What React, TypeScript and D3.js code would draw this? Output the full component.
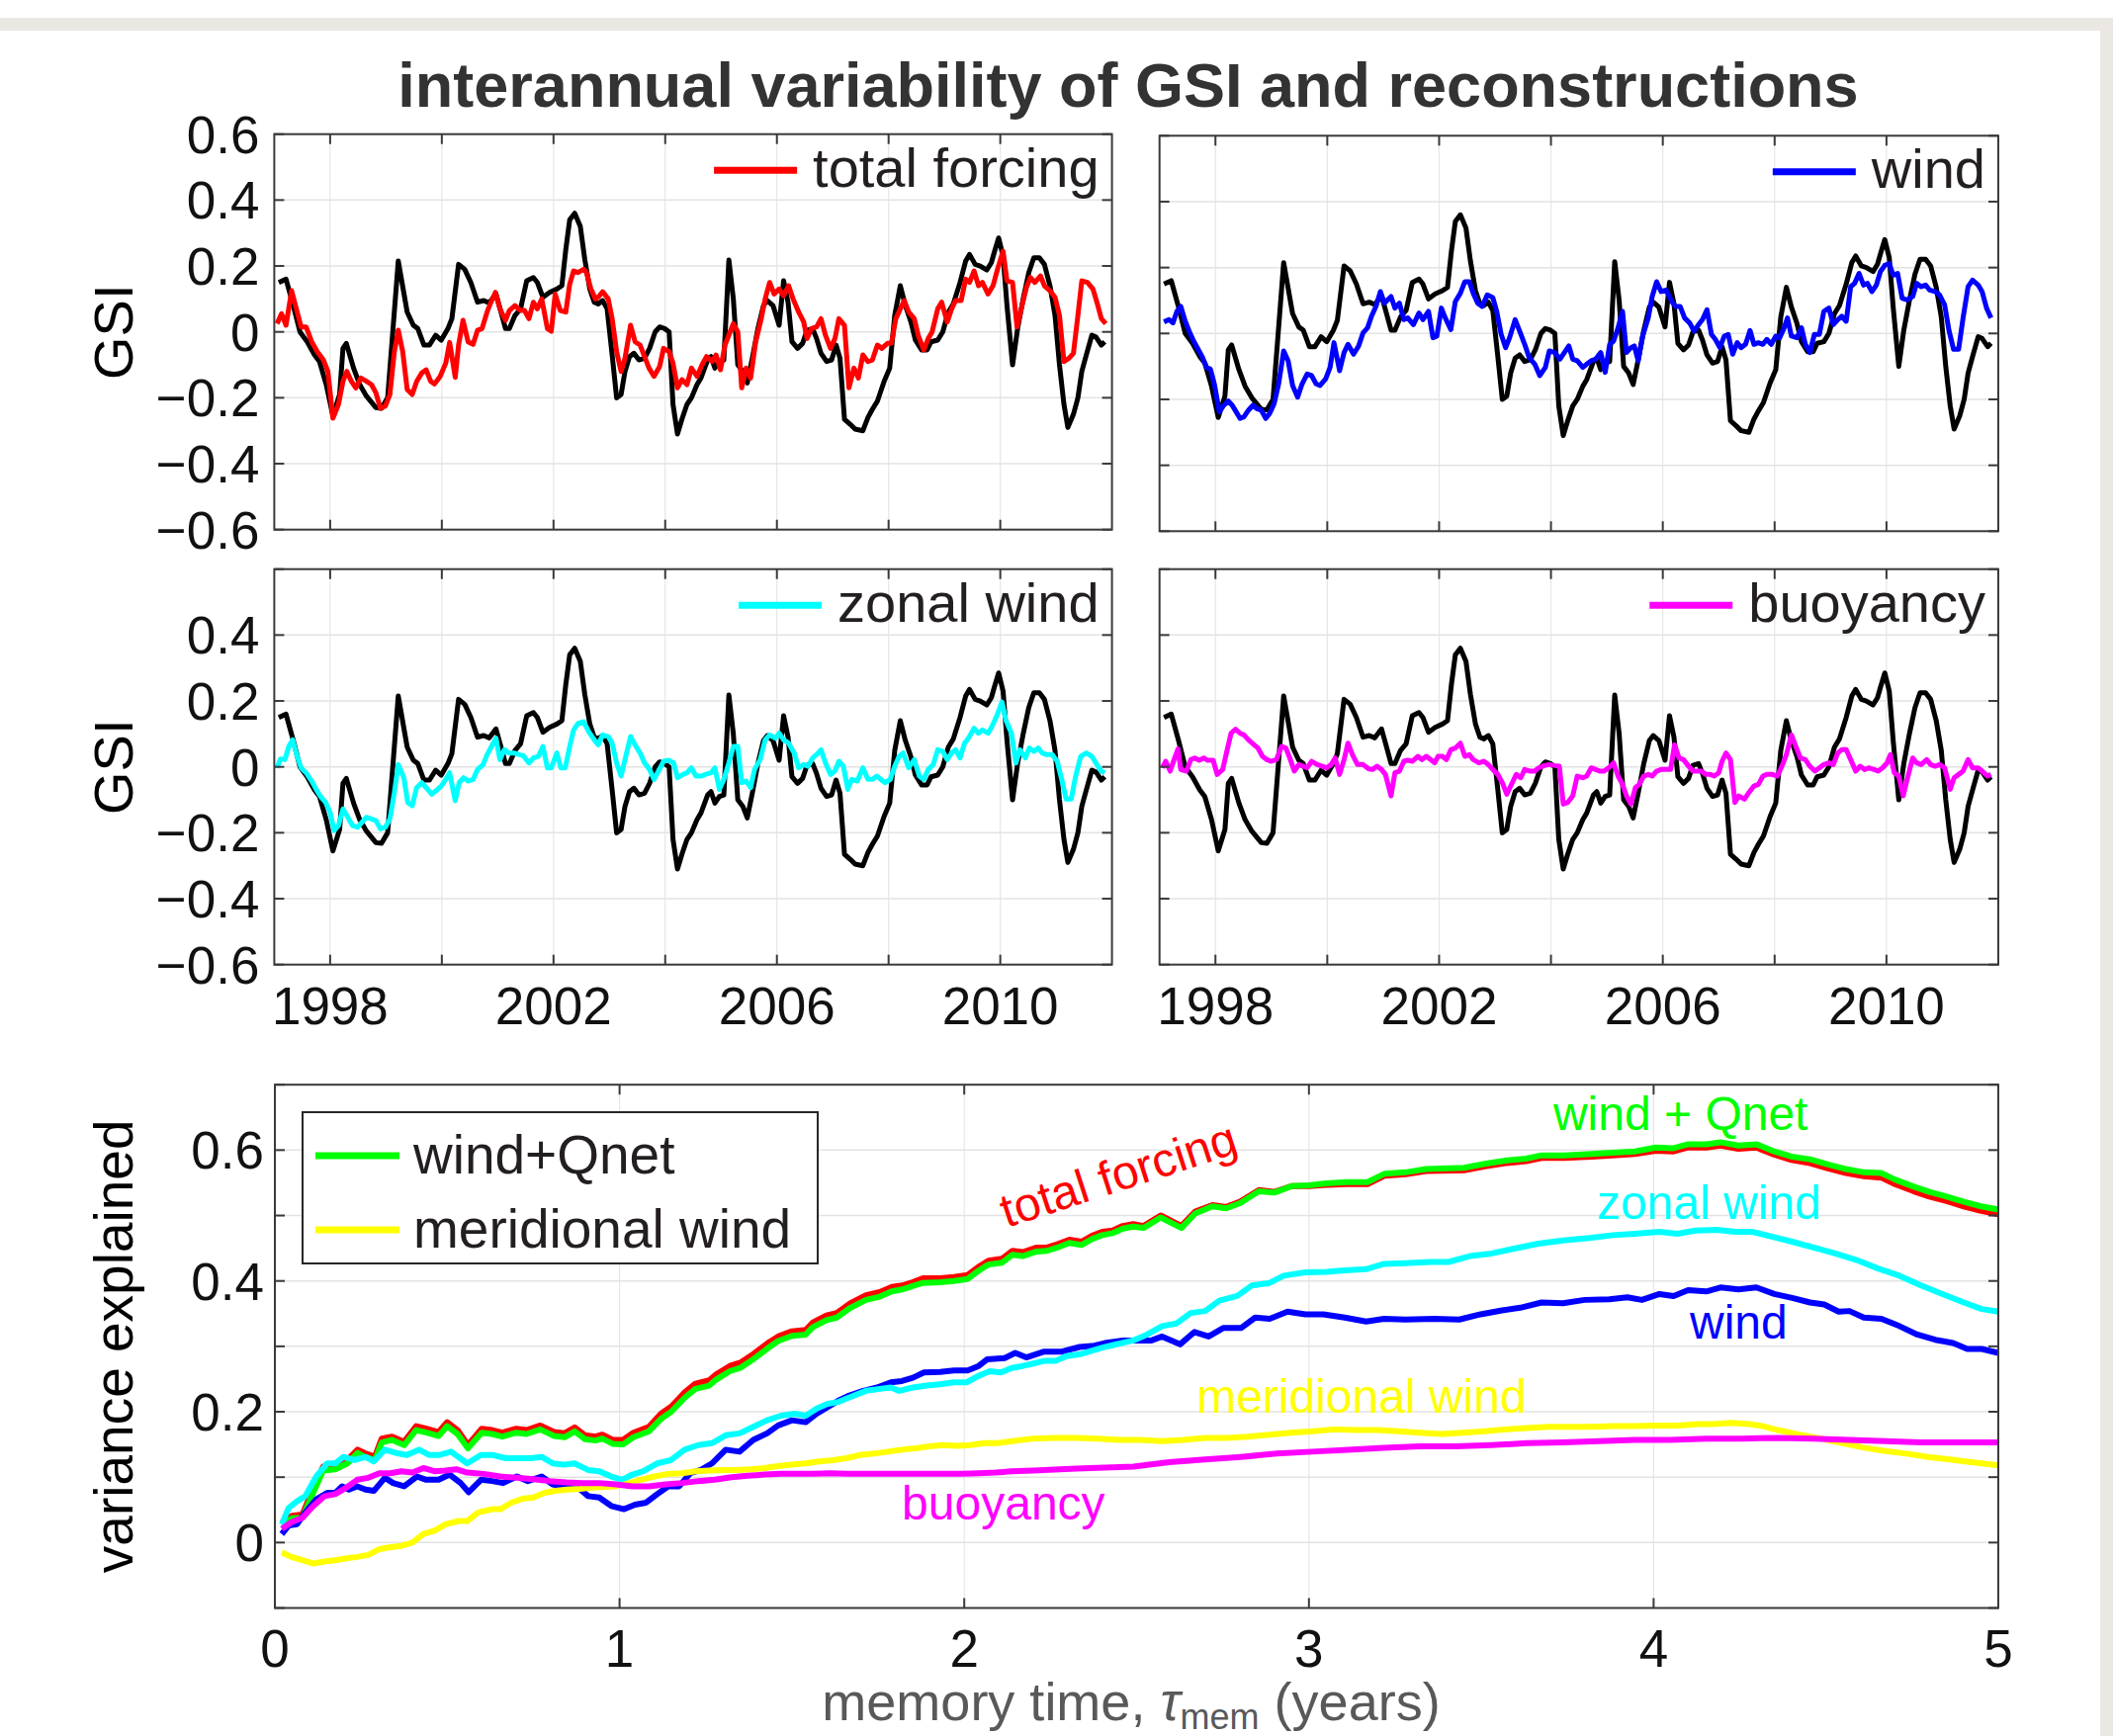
import React, { useEffect, useRef } from "react";
import * as d3 from "d3";

type P = [number, number];

// ---------- top panels: GSI (black) and reconstructions ----------
const GSI: P[] = [[1997.08,0.15],[1997.21,0.16],[1997.34,0.08],[1997.46,0.0],[1997.59,-0.03],[1997.72,-0.07],[1997.81,-0.09],[1997.93,-0.16],[1998.05,-0.255],[1998.17,-0.19],[1998.23,-0.05],[1998.29,-0.035],[1998.42,-0.11],[1998.53,-0.16],[1998.65,-0.195],[1998.82,-0.23],[1998.92,-0.232],[1999.03,-0.2],[1999.22,0.215],[1999.38,0.06],[1999.49,0.02],[1999.57,0.01],[1999.68,-0.04],[1999.78,-0.04],[1999.89,-0.01],[1999.99,-0.025],[2000.11,0.01],[2000.18,0.04],[2000.30,0.205],[2000.41,0.19],[2000.52,0.15],[2000.64,0.09],[2000.75,0.095],[2000.85,0.088],[2000.97,0.115],[2001.06,0.06],[2001.14,0.01],[2001.21,0.01],[2001.31,0.05],[2001.41,0.07],[2001.52,0.155],[2001.64,0.165],[2001.71,0.15],[2001.81,0.105],[2001.93,0.12],[2002.06,0.13],[2002.15,0.14],[2002.22,0.25],[2002.29,0.34],[2002.38,0.36],[2002.48,0.32],[2002.56,0.22],[2002.65,0.13],[2002.73,0.09],[2002.80,0.085],[2002.88,0.095],[2002.96,0.07],[2003.05,-0.07],[2003.13,-0.2],[2003.21,-0.19],[2003.28,-0.12],[2003.36,-0.075],[2003.44,-0.065],[2003.53,-0.085],[2003.63,-0.08],[2003.72,-0.05],[2003.82,0.0],[2003.90,0.015],[2003.99,0.01],[2004.07,0.0],[2004.14,-0.22],[2004.22,-0.31],[2004.30,-0.265],[2004.39,-0.22],[2004.47,-0.2],[2004.57,-0.16],[2004.64,-0.14],[2004.76,-0.085],[2004.82,-0.075],[2004.89,-0.11],[2004.97,-0.09],[2005.05,-0.085],[2005.14,0.218],[2005.22,0.10],[2005.30,-0.1],[2005.39,-0.12],[2005.47,-0.155],[2005.56,-0.08],[2005.66,0.01],[2005.76,0.08],[2005.83,0.095],[2005.93,0.08],[2006.04,0.02],[2006.12,0.155],[2006.20,0.09],[2006.27,-0.03],[2006.37,-0.05],[2006.46,-0.035],[2006.54,0.005],[2006.64,0.01],[2006.71,-0.02],[2006.79,-0.065],[2006.89,-0.09],[2006.98,-0.085],[2007.06,-0.04],[2007.13,-0.08],[2007.21,-0.265],[2007.31,-0.28],[2007.40,-0.295],[2007.54,-0.3],[2007.63,-0.26],[2007.71,-0.235],[2007.80,-0.21],[2007.92,-0.15],[2008.02,-0.11],[2008.11,0.05],[2008.21,0.14],[2008.30,0.08],[2008.40,0.03],[2008.48,-0.025],[2008.59,-0.055],[2008.69,-0.055],[2008.76,-0.03],[2008.88,-0.025],[2008.97,0.0],[2009.07,0.06],[2009.16,0.085],[2009.28,0.15],[2009.38,0.215],[2009.45,0.235],[2009.55,0.205],[2009.64,0.2],[2009.76,0.188],[2009.84,0.21],[2009.89,0.24],[2009.97,0.285],[2010.05,0.23],[2010.12,0.08],[2010.22,-0.1],[2010.31,0.01],[2010.41,0.1],[2010.51,0.18],[2010.60,0.225],[2010.70,0.225],[2010.79,0.205],[2010.89,0.14],[2010.98,0.05],[2011.06,-0.1],[2011.14,-0.22],[2011.21,-0.29],[2011.31,-0.25],[2011.39,-0.2],[2011.46,-0.12],[2011.54,-0.07],[2011.64,-0.01],[2011.71,-0.015],[2011.81,-0.04],[2011.87,-0.03]];

const TOTAL_TS: P[] = [[1997.05,0.025],[1997.13,0.055],[1997.21,0.02],[1997.31,0.125],[1997.38,0.08],[1997.48,0.015],[1997.57,0.015],[1997.67,-0.03],[1997.77,-0.06],[1997.88,-0.085],[1997.96,-0.12],[1998.05,-0.262],[1998.15,-0.22],[1998.23,-0.15],[1998.30,-0.12],[1998.38,-0.15],[1998.46,-0.17],[1998.55,-0.14],[1998.65,-0.15],[1998.74,-0.16],[1998.82,-0.185],[1998.90,-0.232],[1998.99,-0.225],[1999.07,-0.19],[1999.15,-0.06],[1999.22,0.005],[1999.30,-0.06],[1999.38,-0.175],[1999.47,-0.19],[1999.55,-0.15],[1999.64,-0.125],[1999.72,-0.115],[1999.80,-0.15],[1999.87,-0.158],[1999.97,-0.135],[2000.07,-0.095],[2000.14,-0.032],[2000.24,-0.138],[2000.30,-0.04],[2000.38,0.035],[2000.47,-0.03],[2000.56,-0.038],[2000.64,0.005],[2000.72,0.01],[2000.81,0.06],[2000.88,0.09],[2000.96,0.12],[2001.04,0.07],[2001.14,0.035],[2001.21,0.065],[2001.31,0.08],[2001.41,0.065],[2001.48,0.065],[2001.56,0.04],[2001.64,0.09],[2001.71,0.07],[2001.79,0.1],[2001.89,0.01],[2001.96,0.002],[2002.03,0.115],[2002.12,0.065],[2002.22,0.06],[2002.29,0.145],[2002.36,0.185],[2002.44,0.18],[2002.54,0.19],[2002.59,0.18],[2002.67,0.13],[2002.75,0.1],[2002.80,0.105],[2002.88,0.122],[2002.98,0.1],[2003.05,0.04],[2003.13,-0.06],[2003.21,-0.12],[2003.28,-0.08],[2003.38,0.02],[2003.46,-0.03],[2003.55,-0.04],[2003.63,-0.075],[2003.71,-0.11],[2003.80,-0.135],[2003.90,-0.105],[2003.97,-0.05],[2004.07,-0.06],[2004.14,-0.095],[2004.22,-0.17],[2004.30,-0.145],[2004.39,-0.16],[2004.47,-0.11],[2004.57,-0.135],[2004.66,-0.1],[2004.74,-0.075],[2004.84,-0.09],[2004.91,-0.07],[2004.99,-0.115],[2005.07,-0.04],[2005.14,-0.01],[2005.22,0.025],[2005.30,0.0],[2005.37,-0.17],[2005.45,-0.11],[2005.53,-0.14],[2005.62,-0.03],[2005.72,0.04],[2005.79,0.1],[2005.87,0.15],[2005.95,0.115],[2006.04,0.13],[2006.12,0.11],[2006.21,0.14],[2006.29,0.1],[2006.39,0.06],[2006.48,0.03],[2006.54,-0.02],[2006.62,0.01],[2006.71,0.015],[2006.79,0.04],[2006.87,-0.01],[2006.96,-0.05],[2007.04,-0.02],[2007.11,0.04],[2007.21,0.02],[2007.29,-0.17],[2007.38,-0.11],[2007.46,-0.14],[2007.54,-0.07],[2007.63,-0.09],[2007.71,-0.085],[2007.80,-0.04],[2007.88,-0.05],[2007.98,-0.035],[2008.05,-0.035],[2008.13,0.04],[2008.21,0.07],[2008.28,0.095],[2008.36,0.06],[2008.46,0.04],[2008.53,-0.01],[2008.63,-0.055],[2008.71,-0.02],[2008.78,0.0],[2008.88,0.07],[2008.95,0.09],[2009.05,0.03],[2009.13,0.07],[2009.20,0.095],[2009.30,0.095],[2009.38,0.16],[2009.45,0.15],[2009.53,0.185],[2009.61,0.14],[2009.68,0.15],[2009.78,0.115],[2009.87,0.14],[2009.95,0.19],[2010.05,0.245],[2010.12,0.155],[2010.22,0.15],[2010.30,0.015],[2010.39,0.08],[2010.47,0.135],[2010.54,0.165],[2010.62,0.15],[2010.72,0.17],[2010.79,0.14],[2010.89,0.125],[2010.98,0.105],[2011.06,0.05],[2011.14,-0.09],[2011.23,-0.08],[2011.31,-0.065],[2011.39,0.05],[2011.46,0.155],[2011.56,0.15],[2011.66,0.13],[2011.73,0.09],[2011.81,0.04],[2011.89,0.025]];

const WIND_TS: P[] = [[1997.08,0.035],[1997.17,0.042],[1997.24,0.032],[1997.31,0.067],[1997.38,0.082],[1997.46,0.037],[1997.53,0.007],[1997.61,-0.023],[1997.69,-0.048],[1997.77,-0.073],[1997.84,-0.103],[1997.91,-0.108],[1997.98,-0.153],[1998.07,-0.238],[1998.15,-0.218],[1998.23,-0.205],[1998.30,-0.218],[1998.36,-0.235],[1998.44,-0.258],[1998.51,-0.253],[1998.59,-0.233],[1998.67,-0.218],[1998.74,-0.228],[1998.82,-0.233],[1998.90,-0.258],[1998.97,-0.243],[1999.05,-0.213],[1999.13,-0.153],[1999.22,-0.053],[1999.30,-0.083],[1999.38,-0.158],[1999.47,-0.193],[1999.55,-0.153],[1999.64,-0.123],[1999.72,-0.128],[1999.80,-0.153],[1999.87,-0.158],[1999.97,-0.138],[2000.05,-0.103],[2000.12,-0.028],[2000.22,-0.113],[2000.30,-0.058],[2000.37,-0.033],[2000.47,-0.063],[2000.56,-0.038],[2000.64,0.002],[2000.72,0.017],[2000.79,0.052],[2000.87,0.082],[2000.95,0.127],[2001.02,0.092],[2001.14,0.112],[2001.21,0.077],[2001.29,0.092],[2001.37,0.042],[2001.44,0.047],[2001.54,0.027],[2001.64,0.062],[2001.71,0.042],[2001.81,0.067],[2001.89,-0.013],[2001.96,-0.008],[2002.04,0.077],[2002.11,0.047],[2002.21,0.012],[2002.29,0.097],[2002.38,0.122],[2002.46,0.157],[2002.54,0.157],[2002.61,0.122],[2002.69,0.092],[2002.77,0.082],[2002.86,0.117],[2002.96,0.109],[2003.03,0.067],[2003.11,-0.003],[2003.19,-0.043],[2003.26,-0.013],[2003.36,0.042],[2003.44,0.007],[2003.53,-0.033],[2003.61,-0.073],[2003.71,-0.093],[2003.80,-0.128],[2003.90,-0.103],[2003.97,-0.053],[2004.07,-0.058],[2004.16,-0.078],[2004.24,-0.058],[2004.32,-0.038],[2004.39,-0.078],[2004.47,-0.083],[2004.57,-0.103],[2004.64,-0.093],[2004.72,-0.083],[2004.80,-0.078],[2004.89,-0.058],[2004.97,-0.118],[2005.05,-0.033],[2005.12,-0.023],[2005.20,0.017],[2005.28,0.067],[2005.35,-0.058],[2005.43,-0.043],[2005.49,-0.038],[2005.56,-0.083],[2005.64,-0.008],[2005.74,0.047],[2005.81,0.112],[2005.89,0.157],[2005.97,0.127],[2006.06,0.132],[2006.16,0.097],[2006.23,0.082],[2006.31,0.082],[2006.39,0.047],[2006.48,0.032],[2006.56,0.007],[2006.64,0.027],[2006.71,0.042],[2006.79,0.072],[2006.87,-0.003],[2006.94,-0.018],[2007.02,-0.043],[2007.10,-0.008],[2007.17,-0.003],[2007.25,-0.063],[2007.33,-0.028],[2007.40,-0.043],[2007.48,-0.033],[2007.56,0.009],[2007.63,-0.033],[2007.71,-0.028],[2007.79,-0.033],[2007.86,-0.018],[2007.94,-0.033],[2008.02,-0.008],[2008.09,-0.013],[2008.17,0.017],[2008.23,0.047],[2008.30,-0.008],[2008.40,-0.013],[2008.48,0.017],[2008.55,-0.033],[2008.63,-0.058],[2008.71,-0.003],[2008.80,-0.003],[2008.88,0.067],[2008.97,0.077],[2009.05,0.027],[2009.13,0.042],[2009.20,0.052],[2009.28,0.037],[2009.36,0.142],[2009.43,0.152],[2009.51,0.182],[2009.59,0.147],[2009.66,0.152],[2009.74,0.127],[2009.82,0.147],[2009.89,0.187],[2009.97,0.207],[2010.05,0.212],[2010.12,0.177],[2010.20,0.182],[2010.28,0.107],[2010.37,0.102],[2010.47,0.112],[2010.54,0.152],[2010.62,0.142],[2010.70,0.147],[2010.77,0.132],[2010.87,0.127],[2010.95,0.117],[2011.04,0.087],[2011.12,0.007],[2011.20,-0.048],[2011.29,-0.048],[2011.37,0.047],[2011.46,0.142],[2011.54,0.162],[2011.64,0.147],[2011.71,0.127],[2011.79,0.077],[2011.87,0.047]];

const ZONAL_TS: P[] = [[1997.05,-0.003],[1997.11,0.024],[1997.19,0.022],[1997.26,0.062],[1997.33,0.082],[1997.40,0.037],[1997.48,-0.003],[1997.57,-0.018],[1997.67,-0.043],[1997.75,-0.068],[1997.82,-0.088],[1997.92,-0.108],[1998.00,-0.138],[1998.07,-0.193],[1998.15,-0.178],[1998.23,-0.128],[1998.30,-0.148],[1998.40,-0.178],[1998.49,-0.183],[1998.57,-0.168],[1998.65,-0.153],[1998.74,-0.158],[1998.82,-0.163],[1998.90,-0.188],[1998.99,-0.183],[1999.07,-0.158],[1999.15,-0.078],[1999.22,0.007],[1999.32,-0.033],[1999.39,-0.108],[1999.47,-0.118],[1999.55,-0.063],[1999.64,-0.048],[1999.72,-0.063],[1999.82,-0.083],[1999.89,-0.073],[1999.99,-0.058],[2000.07,-0.038],[2000.14,-0.018],[2000.24,-0.103],[2000.31,-0.048],[2000.39,-0.033],[2000.47,-0.043],[2000.56,-0.038],[2000.64,-0.008],[2000.74,0.007],[2000.81,0.037],[2000.89,0.062],[2000.97,0.087],[2001.04,0.022],[2001.12,0.052],[2001.20,0.042],[2001.29,0.042],[2001.39,0.037],[2001.46,0.034],[2001.56,0.012],[2001.64,0.027],[2001.73,0.032],[2001.81,0.062],[2001.89,-0.003],[2001.96,-0.003],[2002.06,0.042],[2002.13,-0.003],[2002.21,-0.003],[2002.29,0.062],[2002.36,0.112],[2002.44,0.132],[2002.54,0.137],[2002.63,0.107],[2002.73,0.082],[2002.80,0.067],[2002.88,0.097],[2002.98,0.092],[2003.05,0.072],[2003.13,0.012],[2003.21,-0.028],[2003.28,0.022],[2003.38,0.092],[2003.46,0.067],[2003.55,0.042],[2003.63,0.012],[2003.72,-0.008],[2003.80,-0.038],[2003.88,-0.013],[2003.97,0.017],[2004.07,0.020],[2004.15,0.012],[2004.22,-0.033],[2004.32,-0.023],[2004.39,-0.018],[2004.47,-0.003],[2004.55,-0.028],[2004.64,-0.028],[2004.72,-0.023],[2004.82,-0.018],[2004.89,-0.003],[2004.97,-0.068],[2005.05,-0.038],[2005.14,0.012],[2005.22,0.062],[2005.30,0.062],[2005.37,-0.048],[2005.45,-0.043],[2005.53,-0.063],[2005.60,-0.008],[2005.70,0.022],[2005.79,0.082],[2005.87,0.097],[2005.97,0.087],[2006.04,0.102],[2006.12,0.082],[2006.21,0.072],[2006.31,0.042],[2006.39,-0.003],[2006.48,0.007],[2006.56,0.002],[2006.64,0.027],[2006.71,0.037],[2006.79,0.052],[2006.87,0.012],[2006.96,-0.023],[2007.04,-0.013],[2007.11,0.017],[2007.19,0.002],[2007.27,-0.068],[2007.34,-0.038],[2007.44,-0.043],[2007.54,-0.003],[2007.63,-0.038],[2007.71,-0.038],[2007.79,-0.028],[2007.86,-0.038],[2007.94,-0.048],[2008.03,-0.038],[2008.11,0.002],[2008.19,0.032],[2008.26,0.042],[2008.36,-0.003],[2008.46,0.022],[2008.55,-0.028],[2008.63,-0.038],[2008.71,-0.008],[2008.80,0.007],[2008.88,0.052],[2008.97,0.047],[2009.05,0.022],[2009.13,0.042],[2009.20,0.052],[2009.28,0.027],[2009.36,0.072],[2009.43,0.087],[2009.53,0.117],[2009.61,0.102],[2009.68,0.112],[2009.78,0.102],[2009.85,0.122],[2009.93,0.152],[2010.03,0.197],[2010.10,0.142],[2010.20,0.102],[2010.28,0.012],[2010.35,0.052],[2010.45,0.027],[2010.52,0.057],[2010.60,0.047],[2010.68,0.057],[2010.75,0.042],[2010.83,0.037],[2010.93,0.037],[2011.02,0.017],[2011.10,-0.038],[2011.18,-0.098],[2011.27,-0.098],[2011.35,-0.028],[2011.44,0.032],[2011.54,0.042],[2011.64,0.032],[2011.71,0.012],[2011.81,-0.013],[2011.87,-0.018]];

const BUOY_TS: P[] = [[1997.05,-0.003],[1997.11,0.017],[1997.19,-0.013],[1997.26,0.022],[1997.33,0.054],[1997.38,-0.008],[1997.48,-0.013],[1997.56,0.022],[1997.63,0.027],[1997.71,0.02],[1997.79,0.027],[1997.86,0.02],[1997.96,0.02],[1998.03,-0.023],[1998.13,-0.008],[1998.21,0.052],[1998.28,0.102],[1998.36,0.114],[1998.44,0.102],[1998.51,0.097],[1998.59,0.082],[1998.69,0.067],[1998.76,0.057],[1998.84,0.032],[1998.92,0.022],[1998.99,0.017],[1999.09,0.022],[1999.18,0.062],[1999.26,0.057],[1999.34,0.022],[1999.41,-0.013],[1999.49,0.007],[1999.57,0.002],[1999.64,-0.003],[1999.72,0.017],[1999.82,0.007],[1999.91,0.002],[1999.99,-0.003],[2000.07,0.007],[2000.14,0.027],[2000.22,-0.023],[2000.30,0.022],[2000.37,0.072],[2000.45,0.037],[2000.54,0.007],[2000.64,0.007],[2000.74,-0.006],[2000.81,-0.008],[2000.89,0.002],[2000.97,-0.008],[2001.04,-0.023],[2001.14,-0.088],[2001.21,-0.018],[2001.29,-0.013],[2001.37,0.017],[2001.44,0.02],[2001.52,0.017],[2001.62,0.032],[2001.69,0.022],[2001.77,0.032],[2001.85,0.022],[2001.92,0.012],[2001.98,0.032],[2002.06,0.032],[2002.13,0.022],[2002.21,0.052],[2002.29,0.057],[2002.38,0.072],[2002.46,0.032],[2002.54,0.037],[2002.61,0.022],[2002.71,0.012],[2002.80,0.017],[2002.88,0.007],[2002.96,-0.008],[2003.05,-0.023],[2003.13,-0.048],[2003.21,-0.083],[2003.28,-0.058],[2003.38,-0.023],[2003.46,-0.033],[2003.53,-0.008],[2003.63,-0.013],[2003.71,-0.013],[2003.78,-0.003],[2003.88,0.004],[2003.97,0.007],[2004.07,0.004],[2004.15,0.002],[2004.22,-0.113],[2004.30,-0.108],[2004.39,-0.088],[2004.47,-0.028],[2004.57,-0.033],[2004.64,-0.028],[2004.72,-0.003],[2004.80,-0.008],[2004.87,-0.013],[2004.95,-0.013],[2005.03,-0.003],[2005.12,0.012],[2005.20,-0.028],[2005.28,-0.053],[2005.35,-0.088],[2005.43,-0.113],[2005.51,-0.063],[2005.58,-0.053],[2005.66,-0.028],[2005.74,-0.023],[2005.81,-0.028],[2005.89,-0.013],[2005.97,-0.008],[2006.04,-0.008],[2006.14,-0.008],[2006.21,0.067],[2006.29,0.027],[2006.37,0.022],[2006.46,0.002],[2006.54,-0.013],[2006.62,-0.013],[2006.69,-0.013],[2006.77,-0.023],[2006.85,-0.023],[2006.92,-0.028],[2007.00,-0.018],[2007.06,0.017],[2007.13,0.042],[2007.21,0.022],[2007.29,-0.108],[2007.36,-0.088],[2007.46,-0.098],[2007.54,-0.078],[2007.63,-0.058],[2007.71,-0.053],[2007.79,-0.028],[2007.86,-0.023],[2007.96,-0.023],[2008.05,-0.028],[2008.13,0.002],[2008.21,0.037],[2008.30,0.097],[2008.38,0.062],[2008.46,0.027],[2008.55,0.022],[2008.63,0.002],[2008.72,-0.013],[2008.80,-0.003],[2008.88,0.007],[2008.97,0.012],[2009.05,0.007],[2009.13,0.042],[2009.20,0.052],[2009.28,0.052],[2009.36,0.022],[2009.45,-0.013],[2009.53,0.002],[2009.61,-0.008],[2009.68,-0.003],[2009.78,-0.008],[2009.85,-0.013],[2009.93,-0.003],[2010.01,0.012],[2010.07,0.037],[2010.14,-0.018],[2010.22,-0.028],[2010.30,-0.088],[2010.37,-0.038],[2010.47,0.027],[2010.54,0.012],[2010.62,0.007],[2010.72,0.022],[2010.79,0.007],[2010.87,0.002],[2010.95,0.007],[2011.04,-0.003],[2011.14,-0.068],[2011.21,-0.033],[2011.29,-0.023],[2011.37,-0.013],[2011.46,0.022],[2011.54,-0.003],[2011.64,-0.003],[2011.71,-0.013],[2011.81,-0.028],[2011.87,-0.023]];

// ---------- bottom panel: variance explained vs memory time ----------
const VE_TOTAL: P[] = [[0.02,0.031],[0.05,0.041],[0.08,0.043],[0.11,0.081],[0.14,0.116],[0.175,0.117],[0.21,0.126],[0.24,0.142],[0.26,0.137],[0.29,0.131],[0.31,0.159],[0.34,0.162],[0.375,0.154],[0.41,0.178],[0.44,0.174],[0.475,0.169],[0.50,0.184],[0.53,0.172],[0.56,0.149],[0.60,0.174],[0.63,0.172],[0.66,0.168],[0.70,0.174],[0.73,0.172],[0.77,0.179],[0.81,0.169],[0.84,0.167],[0.87,0.176],[0.90,0.164],[0.93,0.162],[0.95,0.165],[0.98,0.157],[1.01,0.157],[1.04,0.168],[1.085,0.177],[1.12,0.197],[1.15,0.208],[1.19,0.230],[1.22,0.243],[1.26,0.248],[1.28,0.257],[1.32,0.270],[1.35,0.275],[1.39,0.289],[1.43,0.305],[1.46,0.315],[1.50,0.323],[1.54,0.325],[1.56,0.336],[1.60,0.347],[1.63,0.351],[1.67,0.366],[1.715,0.378],[1.755,0.383],[1.79,0.391],[1.82,0.393],[1.85,0.398],[1.88,0.404],[1.93,0.404],[1.97,0.406],[2.01,0.409],[2.04,0.421],[2.07,0.431],[2.11,0.434],[2.14,0.446],[2.17,0.444],[2.21,0.451],[2.24,0.451],[2.27,0.456],[2.305,0.463],[2.34,0.460],[2.37,0.469],[2.40,0.475],[2.43,0.477],[2.46,0.484],[2.49,0.487],[2.52,0.484],[2.57,0.500],[2.63,0.484],[2.67,0.506],[2.72,0.516],[2.76,0.513],[2.80,0.521],[2.855,0.539],[2.90,0.536],[2.95,0.545],[3.0,0.545],[3.05,0.547],[3.11,0.548],[3.17,0.548],[3.22,0.561],[3.28,0.563],[3.34,0.568],[3.45,0.569],[3.51,0.575],[3.57,0.580],[3.63,0.583],[3.675,0.588],[3.74,0.588],[3.82,0.590],[3.88,0.592],[3.945,0.594],[4.006,0.599],[4.058,0.598],[4.10,0.604],[4.153,0.604],[4.194,0.607],[4.246,0.602],[4.298,0.604],[4.35,0.593],[4.40,0.585],[4.454,0.580],[4.506,0.572],[4.558,0.565],[4.61,0.560],[4.66,0.558],[4.70,0.548],[4.755,0.537],[4.80,0.529],[4.85,0.522],[4.90,0.514],[4.95,0.507],[5.0,0.502]];

const VE_WINDQNET: P[] = [[0.02,0.028],[0.05,0.037],[0.08,0.038],[0.11,0.075],[0.14,0.110],[0.175,0.112],[0.21,0.121],[0.24,0.137],[0.26,0.131],[0.29,0.126],[0.31,0.153],[0.34,0.157],[0.375,0.149],[0.41,0.172],[0.44,0.168],[0.475,0.163],[0.50,0.178],[0.53,0.166],[0.56,0.144],[0.60,0.168],[0.63,0.166],[0.66,0.162],[0.70,0.168],[0.73,0.166],[0.77,0.173],[0.81,0.163],[0.84,0.161],[0.87,0.170],[0.90,0.158],[0.93,0.156],[0.95,0.159],[0.98,0.151],[1.01,0.150],[1.04,0.161],[1.085,0.170],[1.12,0.189],[1.15,0.200],[1.19,0.222],[1.22,0.235],[1.26,0.240],[1.28,0.249],[1.32,0.262],[1.35,0.267],[1.39,0.281],[1.43,0.297],[1.46,0.308],[1.50,0.316],[1.54,0.318],[1.56,0.329],[1.60,0.340],[1.63,0.344],[1.67,0.359],[1.715,0.371],[1.755,0.376],[1.79,0.384],[1.82,0.387],[1.85,0.392],[1.88,0.397],[1.93,0.398],[1.97,0.400],[2.01,0.403],[2.04,0.415],[2.07,0.425],[2.11,0.428],[2.14,0.440],[2.17,0.438],[2.21,0.445],[2.24,0.446],[2.27,0.451],[2.305,0.458],[2.34,0.455],[2.37,0.464],[2.40,0.470],[2.43,0.473],[2.46,0.480],[2.49,0.483],[2.52,0.481],[2.57,0.497],[2.63,0.481],[2.67,0.503],[2.72,0.514],[2.76,0.511],[2.80,0.519],[2.855,0.537],[2.90,0.535],[2.95,0.545],[3.0,0.546],[3.05,0.549],[3.11,0.551],[3.17,0.551],[3.22,0.564],[3.28,0.566],[3.34,0.571],[3.45,0.573],[3.51,0.579],[3.57,0.584],[3.63,0.587],[3.675,0.592],[3.74,0.592],[3.82,0.594],[3.88,0.596],[3.945,0.598],[4.006,0.604],[4.058,0.603],[4.10,0.609],[4.153,0.609],[4.194,0.612],[4.246,0.607],[4.298,0.609],[4.35,0.598],[4.40,0.590],[4.454,0.586],[4.506,0.578],[4.558,0.571],[4.61,0.566],[4.66,0.565],[4.70,0.555],[4.755,0.544],[4.80,0.536],[4.85,0.529],[4.90,0.521],[4.95,0.514],[5.0,0.509]];

const VE_ZONAL: P[] = [[0.02,0.028],[0.04,0.053],[0.064,0.063],[0.088,0.071],[0.12,0.101],[0.152,0.121],[0.175,0.121],[0.199,0.131],[0.231,0.126],[0.263,0.131],[0.287,0.124],[0.319,0.142],[0.351,0.137],[0.383,0.134],[0.418,0.142],[0.447,0.134],[0.479,0.134],[0.511,0.139],[0.558,0.121],[0.598,0.134],[0.63,0.134],[0.67,0.129],[0.71,0.129],[0.742,0.129],[0.774,0.131],[0.806,0.121],[0.838,0.119],[0.869,0.121],[0.909,0.111],[0.941,0.109],[0.976,0.101],[1.008,0.096],[1.037,0.104],[1.069,0.109],[1.109,0.121],[1.149,0.126],[1.189,0.142],[1.228,0.149],[1.268,0.152],[1.308,0.164],[1.348,0.167],[1.388,0.177],[1.428,0.187],[1.468,0.194],[1.508,0.197],[1.54,0.194],[1.572,0.205],[1.603,0.212],[1.635,0.215],[1.667,0.222],[1.715,0.232],[1.755,0.235],[1.787,0.237],[1.811,0.232],[1.851,0.237],[1.891,0.240],[1.93,0.242],[1.97,0.245],[2.007,0.245],[2.042,0.255],[2.074,0.262],[2.106,0.260],[2.138,0.267],[2.17,0.270],[2.194,0.273],[2.234,0.278],[2.265,0.278],[2.297,0.285],[2.337,0.288],[2.369,0.293],[2.401,0.298],[2.433,0.302],[2.465,0.306],[2.49,0.309],[2.53,0.318],[2.574,0.331],[2.616,0.335],[2.657,0.351],[2.699,0.354],[2.74,0.37],[2.792,0.377],[2.834,0.393],[2.886,0.397],[2.927,0.408],[2.99,0.413],[3.052,0.414],[3.104,0.416],[3.166,0.418],[3.218,0.426],[3.28,0.427],[3.353,0.429],[3.405,0.429],[3.467,0.438],[3.53,0.442],[3.592,0.449],[3.665,0.457],[3.737,0.462],[3.82,0.466],[3.882,0.47],[3.945,0.472],[4.017,0.475],[4.069,0.472],[4.121,0.477],[4.184,0.478],[4.236,0.475],[4.288,0.475],[4.34,0.468],[4.402,0.46],[4.464,0.451],[4.527,0.442],[4.589,0.432],[4.651,0.419],[4.713,0.408],[4.776,0.393],[4.838,0.38],[4.9,0.367],[4.952,0.357],[5.0,0.353]];

const VE_WIND: P[] = [[0.02,0.013],[0.04,0.026],[0.064,0.028],[0.088,0.046],[0.12,0.066],[0.152,0.076],[0.175,0.076],[0.195,0.086],[0.215,0.081],[0.239,0.086],[0.263,0.081],[0.287,0.079],[0.319,0.099],[0.343,0.091],[0.375,0.086],[0.412,0.101],[0.439,0.096],[0.475,0.096],[0.507,0.104],[0.539,0.091],[0.562,0.077],[0.598,0.096],[0.63,0.094],[0.662,0.091],[0.702,0.101],[0.734,0.094],[0.774,0.101],[0.806,0.089],[0.838,0.086],[0.869,0.089],[0.909,0.071],[0.941,0.069],[0.976,0.056],[1.013,0.051],[1.045,0.058],[1.077,0.061],[1.109,0.074],[1.141,0.086],[1.173,0.086],[1.205,0.106],[1.236,0.111],[1.268,0.121],[1.308,0.142],[1.348,0.139],[1.388,0.157],[1.428,0.167],[1.46,0.179],[1.5,0.187],[1.54,0.184],[1.572,0.197],[1.603,0.207],[1.635,0.217],[1.667,0.225],[1.707,0.232],[1.747,0.237],[1.787,0.245],[1.819,0.247],[1.851,0.252],[1.883,0.260],[1.93,0.261],[1.97,0.263],[2.01,0.263],[2.042,0.270],[2.066,0.280],[2.117,0.282],[2.148,0.29],[2.18,0.283],[2.232,0.292],[2.283,0.292],[2.335,0.299],[2.377,0.301],[2.408,0.305],[2.46,0.309],[2.512,0.309],[2.543,0.309],[2.574,0.315],[2.626,0.303],[2.668,0.322],[2.709,0.315],[2.751,0.328],[2.803,0.328],[2.844,0.344],[2.886,0.342],[2.938,0.353],[2.99,0.349],[3.042,0.349],[3.104,0.344],[3.166,0.338],[3.218,0.342],[3.28,0.341],[3.363,0.342],[3.436,0.341],[3.498,0.349],[3.56,0.355],[3.613,0.359],[3.675,0.367],[3.737,0.366],[3.8,0.371],[3.872,0.372],[3.924,0.375],[3.966,0.371],[4.017,0.38],[4.058,0.377],[4.1,0.386],[4.153,0.384],[4.194,0.39],[4.246,0.387],[4.298,0.39],[4.35,0.38],[4.402,0.374],[4.454,0.367],[4.495,0.364],[4.537,0.353],[4.568,0.354],[4.61,0.344],[4.661,0.342],[4.713,0.331],[4.765,0.318],[4.817,0.31],[4.869,0.305],[4.91,0.296],[4.952,0.296],[5.0,0.29]];

const VE_MERID: P[] = [[0.02,-0.015],[0.048,-0.022],[0.08,-0.027],[0.112,-0.032],[0.144,-0.029],[0.175,-0.027],[0.207,-0.024],[0.239,-0.022],[0.271,-0.019],[0.303,-0.01],[0.335,-0.007],[0.367,-0.005],[0.399,0.0],[0.431,0.013],[0.463,0.018],[0.495,0.028],[0.534,0.033],[0.558,0.033],[0.59,0.046],[0.63,0.051],[0.654,0.051],[0.686,0.061],[0.718,0.067],[0.75,0.069],[0.782,0.076],[0.814,0.079],[0.846,0.081],[0.885,0.082],[0.917,0.084],[0.957,0.085],[0.989,0.086],[1.029,0.091],[1.061,0.096],[1.101,0.101],[1.141,0.105],[1.181,0.106],[1.22,0.109],[1.26,0.110],[1.30,0.111],[1.34,0.111],[1.38,0.112],[1.42,0.114],[1.46,0.117],[1.50,0.119],[1.54,0.121],[1.579,0.124],[1.619,0.126],[1.659,0.129],[1.699,0.134],[1.739,0.136],[1.779,0.139],[1.819,0.142],[1.859,0.144],[1.899,0.147],[1.938,0.149],[1.978,0.148],[2.018,0.149],[2.058,0.152],[2.098,0.152],[2.138,0.155],[2.2,0.159],[2.263,0.16],[2.325,0.16],[2.387,0.159],[2.45,0.157],[2.512,0.157],[2.574,0.155],[2.637,0.157],[2.699,0.16],[2.761,0.16],[2.823,0.162],[2.886,0.165],[2.948,0.168],[3.01,0.17],[3.073,0.173],[3.135,0.172],[3.197,0.172],[3.26,0.17],[3.322,0.168],[3.384,0.166],[3.446,0.168],[3.509,0.17],[3.571,0.173],[3.633,0.175],[3.696,0.177],[3.758,0.177],[3.82,0.177],[3.882,0.178],[3.945,0.178],[4.006,0.179],[4.069,0.179],[4.131,0.181],[4.173,0.181],[4.225,0.183],[4.277,0.181],[4.308,0.179],[4.36,0.172],[4.423,0.165],[4.485,0.159],[4.548,0.152],[4.61,0.145],[4.672,0.14],[4.734,0.136],[4.796,0.131],[4.859,0.127],[4.921,0.123],[5.0,0.118]];

const VE_BUOY: P[] = [[0.02,0.021],[0.048,0.031],[0.08,0.038],[0.112,0.056],[0.144,0.071],[0.175,0.074],[0.207,0.084],[0.239,0.096],[0.271,0.099],[0.303,0.106],[0.335,0.106],[0.367,0.109],[0.399,0.107],[0.431,0.114],[0.463,0.109],[0.495,0.110],[0.526,0.112],[0.558,0.107],[0.606,0.105],[0.654,0.101],[0.702,0.099],[0.75,0.097],[0.798,0.094],[0.846,0.092],[0.893,0.091],[0.941,0.091],[0.989,0.089],[1.037,0.086],[1.085,0.086],[1.133,0.089],[1.181,0.091],[1.228,0.094],[1.276,0.096],[1.324,0.1],[1.372,0.102],[1.42,0.104],[1.468,0.105],[1.516,0.105],[1.564,0.105],[1.611,0.106],[1.659,0.105],[1.707,0.105],[1.755,0.105],[1.803,0.105],[1.851,0.105],[1.899,0.105],[1.946,0.105],[1.994,0.105],[2.042,0.106],[2.09,0.107],[2.138,0.109],[2.2,0.11],[2.325,0.113],[2.491,0.116],[2.595,0.123],[2.699,0.127],[2.803,0.131],[2.907,0.136],[3.01,0.139],[3.114,0.142],[3.218,0.145],[3.322,0.147],[3.426,0.147],[3.53,0.149],[3.633,0.152],[3.737,0.153],[3.841,0.155],[3.945,0.157],[4.048,0.157],[4.152,0.159],[4.256,0.159],[4.36,0.16],[4.464,0.159],[4.568,0.157],[4.672,0.155],[4.776,0.153],[4.879,0.153],[5.0,0.153]];

// tick values / labels
const YEAR_GRID = [1998, 2000, 2002, 2004, 2006, 2008, 2010];
const YEAR_LABELS = [1998, 2002, 2006, 2010];
const GSI_TICKS = [-0.6, -0.4, -0.2, 0, 0.2, 0.4, 0.6];
const TAU_TICKS = [0, 1, 2, 3, 4, 5];
const VE_TICKS = [-0.1, 0, 0.1, 0.2, 0.3, 0.4, 0.5, 0.6, 0.7];
const VE_LABELS = [0, 0.2, 0.4, 0.6];

const FONT = '"Liberation Sans", Arial, Helvetica, sans-serif';
const W = 2137, H = 1756;

function fmt(v: number) {
  if (Math.abs(v) < 1e-9) return "0";
  const s = Math.abs(v).toFixed(1);
  return (v < 0 ? "\u2212" : "") + s;
}

export default function App() {
  const ref = useRef<SVGSVGElement>(null);

  useEffect(() => {
    const svg = d3.select(ref.current);
    svg.selectAll("*").remove();

    svg.append("rect").attr("width", W).attr("height", H).attr("fill", "#fff");
    svg.append("rect").attr("x", 0).attr("y", 18).attr("width", W).attr("height", 13).attr("fill", "#ebe8e4");
    svg.append("rect").attr("x", 2124).attr("y", 31).attr("width", 13).attr("height", H - 31).attr("fill", "#ebe8e4");

    svg.append("text")
      .attr("x", 1141).attr("y", 108)
      .attr("text-anchor", "middle")
      .attr("font-family", FONT).attr("font-weight", "bold").attr("font-size", 63)
      .attr("fill", "#333")
      .text("interannual variability of GSI and reconstructions");

    const panels = [
      { x0: 277.4, x1: 1124.6, y0: 135.7, y1: 535.7, data: TOTAL_TS, color: "#ff0000", label: "total forcing", yLabels: GSI_TICKS, xLabels: false, ylab: true },
      { x0: 1172.7, x1: 2021, y0: 137.3, y1: 537.3, data: WIND_TS, color: "#0000ff", label: "wind", yLabels: [] as number[], xLabels: false, ylab: false },
      { x0: 277.4, x1: 1124.6, y0: 575.7, y1: 975.7, data: ZONAL_TS, color: "#00ffff", label: "zonal wind", yLabels: GSI_TICKS.filter(v => v < 0.5), xLabels: true, ylab: true },
      { x0: 1172.7, x1: 2021, y0: 575.7, y1: 975.7, data: BUOY_TS, color: "#ff00ff", label: "buoyancy", yLabels: [] as number[], xLabels: true, ylab: false },
    ];

    const TL = 10;
    panels.forEach((p) => {
      const x = d3.scaleLinear().domain([1997, 2012]).range([p.x0, p.x1]);
      const y = d3.scaleLinear().domain([-0.6, 0.6]).range([p.y1, p.y0]);
      const g = svg.append("g");

      g.selectAll("line.vg").data(YEAR_GRID).enter().append("line")
        .attr("x1", d => x(d)).attr("x2", d => x(d)).attr("y1", p.y0).attr("y2", p.y1)
        .attr("stroke", "#e6e6e6").attr("stroke-width", 1.2);
      g.selectAll("line.hg").data(GSI_TICKS.slice(1, -1)).enter().append("line")
        .attr("x1", p.x0).attr("x2", p.x1).attr("y1", d => y(d)).attr("y2", d => y(d))
        .attr("stroke", "#e3e3e3").attr("stroke-width", 1.5);

      const line = d3.line<P>().x(d => x(d[0])).y(d => y(d[1]));
      g.append("path").datum(GSI).attr("d", line).attr("fill", "none")
        .attr("stroke", "#000").attr("stroke-width", 5).attr("stroke-linejoin", "round");
      g.append("path").datum(p.data).attr("d", line).attr("fill", "none")
        .attr("stroke", p.color).attr("stroke-width", 5).attr("stroke-linejoin", "round");

      g.append("rect").attr("x", p.x0).attr("y", p.y0).attr("width", p.x1 - p.x0).attr("height", p.y1 - p.y0)
        .attr("fill", "none").attr("stroke", "#3a3a3a").attr("stroke-width", 2);

      // inward ticks
      YEAR_GRID.forEach(t => {
        g.append("line").attr("x1", x(t)).attr("x2", x(t)).attr("y1", p.y1).attr("y2", p.y1 - TL).attr("stroke", "#3a3a3a").attr("stroke-width", 2);
        g.append("line").attr("x1", x(t)).attr("x2", x(t)).attr("y1", p.y0).attr("y2", p.y0 + TL).attr("stroke", "#3a3a3a").attr("stroke-width", 2);
      });
      GSI_TICKS.forEach(v => {
        g.append("line").attr("x1", p.x0).attr("x2", p.x0 + TL).attr("y1", y(v)).attr("y2", y(v)).attr("stroke", "#3a3a3a").attr("stroke-width", 2);
        g.append("line").attr("x1", p.x1).attr("x2", p.x1 - TL).attr("y1", y(v)).attr("y2", y(v)).attr("stroke", "#3a3a3a").attr("stroke-width", 2);
      });

      g.selectAll("text.yl").data(p.yLabels).enter().append("text")
        .attr("x", p.x0 - 15).attr("y", d => y(d)).attr("dy", "0.36em")
        .attr("text-anchor", "end").attr("font-family", FONT).attr("font-size", 53).attr("fill", "#111")
        .text(d => fmt(d));

      if (p.xLabels) {
        g.selectAll("text.xl").data(YEAR_LABELS).enter().append("text")
          .attr("x", d => x(d)).attr("y", p.y1 + 60)
          .attr("text-anchor", "middle").attr("font-family", FONT).attr("font-size", 53).attr("fill", "#111")
          .text(d => String(d));
      }

      if (p.ylab) {
        const cy = (p.y0 + p.y1) / 2;
        g.append("text").attr("transform", `translate(134,${cy}) rotate(-90)`)
          .attr("text-anchor", "middle").attr("font-family", FONT).attr("font-size", 56).attr("fill", "#000")
          .text("GSI");
      }

      // legend (no box), right aligned
      const tx = p.x1 - 13;
      const txt = g.append("text").attr("x", tx).attr("y", p.y0 + 53)
        .attr("text-anchor", "end").attr("font-family", FONT).attr("font-size", 56).attr("fill", "#231f20")
        .text(p.label);
      const w = (txt.node() as SVGTextElement).getComputedTextLength();
      const lx1 = tx - w - 16;
      g.append("line").attr("x1", lx1 - 84).attr("x2", lx1).attr("y1", p.y0 + 36.5).attr("y2", p.y0 + 36.5)
        .attr("stroke", p.color).attr("stroke-width", 7);
    });

    // ---------- bottom panel ----------
    const bx0 = 278, bx1 = 2021, by0 = 1097.2, by1 = 1626.5;
    const x = d3.scaleLinear().domain([0, 5]).range([bx0, bx1]);
    const y = d3.scaleLinear().domain([-0.1, 0.7]).range([by1, by0]);
    const g = svg.append("g");

    g.selectAll("line.vg").data(TAU_TICKS.slice(1, -1)).enter().append("line")
      .attr("x1", d => x(d)).attr("x2", d => x(d)).attr("y1", by0).attr("y2", by1)
      .attr("stroke", "#e6e6e6").attr("stroke-width", 1.2);
    g.selectAll("line.hg").data(VE_TICKS.slice(1, -1)).enter().append("line")
      .attr("x1", bx0).attr("x2", bx1).attr("y1", d => y(d)).attr("y2", d => y(d))
      .attr("stroke", "#e3e3e3").attr("stroke-width", 1.5);

    const bline = d3.line<P>().x(d => x(d[0])).y(d => y(d[1]));
    const series: [P[], string][] = [
      [VE_TOTAL, "#ff0000"],
      [VE_WINDQNET, "#00ff00"],
      [VE_WIND, "#0000ff"],
      [VE_ZONAL, "#00ffff"],
      [VE_MERID, "#ffff00"],
      [VE_BUOY, "#ff00ff"],
    ];
    series.forEach(([d, c]) => {
      g.append("path").datum(d).attr("d", bline).attr("fill", "none")
        .attr("stroke", c).attr("stroke-width", 6).attr("stroke-linejoin", "round");
    });

    g.append("rect").attr("x", bx0).attr("y", by0).attr("width", bx1 - bx0).attr("height", by1 - by0)
      .attr("fill", "none").attr("stroke", "#3a3a3a").attr("stroke-width", 2);
    TAU_TICKS.forEach(t => {
      g.append("line").attr("x1", x(t)).attr("x2", x(t)).attr("y1", by1).attr("y2", by1 - TL).attr("stroke", "#3a3a3a").attr("stroke-width", 2);
      g.append("line").attr("x1", x(t)).attr("x2", x(t)).attr("y1", by0).attr("y2", by0 + TL).attr("stroke", "#3a3a3a").attr("stroke-width", 2);
    });
    VE_TICKS.forEach(v => {
      g.append("line").attr("x1", bx0).attr("x2", bx0 + TL).attr("y1", y(v)).attr("y2", y(v)).attr("stroke", "#3a3a3a").attr("stroke-width", 2);
      g.append("line").attr("x1", bx1).attr("x2", bx1 - TL).attr("y1", y(v)).attr("y2", y(v)).attr("stroke", "#3a3a3a").attr("stroke-width", 2);
    });

    g.selectAll("text.yl").data(VE_LABELS).enter().append("text")
      .attr("x", bx0 - 11).attr("y", d => y(d)).attr("dy", "0.36em")
      .attr("text-anchor", "end").attr("font-family", FONT).attr("font-size", 53).attr("fill", "#111")
      .text(d => fmt(d));
    g.selectAll("text.xl").data(TAU_TICKS).enter().append("text")
      .attr("x", d => x(d)).attr("y", by1 + 59)
      .attr("text-anchor", "middle").attr("font-family", FONT).attr("font-size", 53).attr("fill", "#111")
      .text(d => String(d));

    g.append("text").attr("transform", `translate(134,${(by0 + by1) / 2}) rotate(-90)`)
      .attr("text-anchor", "middle").attr("font-family", FONT).attr("font-size", 55).attr("fill", "#000")
      .text("variance explained");

    const xl = g.append("text").attr("x", 1144).attr("y", 1740)
      .attr("text-anchor", "middle").attr("font-family", FONT).attr("font-size", 54).attr("fill", "#58595b");
    xl.append("tspan").text("memory time, ");
    xl.append("tspan").attr("font-style", "italic").text("\u03c4");
    xl.append("tspan").attr("font-size", 36).attr("dy", 9).text("mem");
    xl.append("tspan").attr("dy", -9).text(" (years)");

    // annotations
    const ann: [string, number, number, string, number][] = [
      ["total forcing", 2.123, 0.481, "#ff0000", -18],
      ["wind + Qnet", 3.709, 0.631, "#00ff00", 0],
      ["zonal wind", 3.835, 0.495, "#00ffff", 0],
      ["wind", 4.105, 0.312, "#0000ff", 0],
      ["meridional wind", 2.674, 0.198, "#ffff00", 0],
      ["buoyancy", 1.819, 0.035, "#ff00ff", 0],
    ];
    ann.forEach(([t, ax, ay, c, r]) => {
      g.append("text").attr("transform", `translate(${x(ax)},${y(ay)}) rotate(${r})`)
        .attr("font-family", FONT).attr("font-size", 48).attr("fill", c).text(t);
    });

    // legend box
    const lg = g.append("g");
    lg.append("rect").attr("x", 306).attr("y", 1125).attr("width", 521).attr("height", 153)
      .attr("fill", "#fff").attr("stroke", "#262626").attr("stroke-width", 2);
    const entries: [string, string, number][] = [["wind+Qnet", "#00ff00", 1169], ["meridional wind", "#ffff00", 1244]];
    entries.forEach(([t, c, ly]) => {
      lg.append("line").attr("x1", 319).attr("x2", 404).attr("y1", ly).attr("y2", ly).attr("stroke", c).attr("stroke-width", 7);
      lg.append("text").attr("x", 418).attr("y", ly).attr("dy", "0.33em")
        .attr("font-family", FONT).attr("font-size", 55).attr("fill", "#231f20").text(t);
    });
  }, []);

  return (
    <svg ref={ref} width={W} height={H}
      style={{ position: "absolute", left: 0, top: 0, display: "block", background: "#fff" }} />
  );
}
